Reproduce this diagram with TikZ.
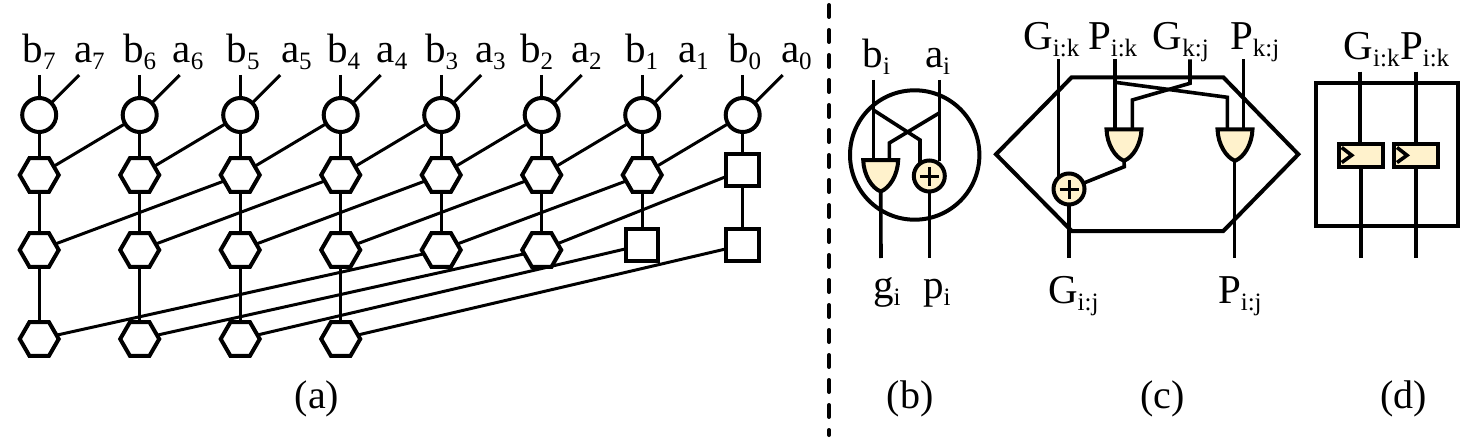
\documentclass[tikz,border=0pt]{standalone}
\usepackage{fontspec}
\setmainfont{Liberation Serif}
\usetikzlibrary{shapes.geometric}
\definecolor{gatefill}{HTML}{FFF2CC}
\newcommand{\sig}[2]{{\fontsize{41}{41}\selectfont #1\raisebox{-7pt}{\fontsize{25}{25}\selectfont #2}}}
\tikzset{
  x=1pt,y=-1pt,
  wire/.style={line width=3pt,line cap=butt},
  gwire/.style={line width=3.6pt,line join=miter},
  shapeline/.style={line width=4pt,draw=black,inner sep=0pt,outer sep=0pt,line join=miter},
  pgnode/.style={shapeline,circle,fill=white,minimum size=34pt},
  hexnode/.style={shapeline,regular polygon,regular polygon sides=6,fill=white,minimum size=39pt},
  sqnode/.style={shapeline,rectangle,fill=white,minimum size=32.5pt},
  xornode/.style={shapeline,circle,fill=gatefill,minimum size=31pt},
  txt/.style={inner sep=0pt,outer sep=0pt,anchor=base west},
  caption/.style={inner sep=0pt,outer sep=0pt,anchor=base,font=\fontsize{40}{40}\selectfont},
  ffnode/.style={shapeline,rectangle,fill=gatefill,minimum width=44pt,minimum height=22.5pt},
}
% AND gate opening at the top: name, centre x, top y
\newcommand{\andgate}[3]{
  \filldraw[shapeline,fill=gatefill]
    (#2-17.5,#3) -- (#2+17.5,#3) .. controls (#2+17,#3+15) and (#2+9,#3+28) .. (#2,#3+31.5)
    .. controls (#2-9,#3+28) and (#2-17,#3+15) .. cycle;
  \coordinate (#1-out) at (#2,#3+31.5);
}
% plus sign of an XOR node
\newcommand{\xorplus}[1]{
  \draw[line width=3pt] ([xshift=-9.5pt]#1.center) -- ([xshift=9.5pt]#1.center)
                        ([yshift=-9.5pt]#1.center) -- ([yshift=9.5pt]#1.center);
}
% clock chevron of a flip-flop
\newcommand{\ffclock}[1]{
  \draw[line width=3.6pt] ([xshift=3pt,yshift=-7.2pt]#1.west) -- ([xshift=13pt]#1.west) -- ([xshift=3pt,yshift=7.8pt]#1.west);
}
\begin{document}
\begin{tikzpicture}
\useasboundingbox (0,0) rectangle (1463,441);

% --- prefix network -----------------------------------------------------
\foreach \i/\xb/\xa in {7/22.7/74,6/123/172.7,5/226.7/281,4/327/376.7,3/425/475,2/520/571,1/625/678,0/728/781}{
  \pgfmathsetmacro{\cx}{742.7-100.5*\i}
  \node[pgnode] (p\i) at (\cx,115) {};
  \coordinate (tb\i) at (\cx,75);
  \coordinate (ta\i) at (\cx+40,75);
  \draw[wire] (tb\i) -- (p\i);
  \draw[wire] (ta\i) -- (p\i);
  \node[txt] (lb\i) at (\xb,63) {\sig{b}{\i}};
  \node[txt] (la\i) at (\xa,63) {\sig{a}{\i}};
}
\foreach \i in {1,...,7}{
  \pgfmathsetmacro{\cx}{742.7-100.5*\i}
  \node[hexnode] (r\i) at (\cx,175) {};
}
\foreach \i in {2,...,7}{
  \pgfmathsetmacro{\cx}{742.7-100.5*\i}
  \node[hexnode] (s\i) at (\cx,250) {};
}
\foreach \i in {4,...,7}{
  \pgfmathsetmacro{\cx}{742.7-100.5*\i}
  \node[hexnode] (t\i) at (\cx,339) {};
}
\node[sqnode] (r0) at (742.7,170) {};
\node[sqnode] (s0) at (742.7,245) {};
\node[sqnode] (s1) at (642.2,245) {};

% vertical links
\foreach \i in {0,...,7}{ \draw[wire] (p\i) -- (r\i); }
\foreach \i in {0,...,7}{ \draw[wire] (r\i) -- (s\i); }
\foreach \i in {4,...,7}{ \draw[wire] (s\i) -- (t\i); }
% slanted links
\foreach \a/\b in {0/1,1/2,2/3,3/4,4/5,5/6,6/7}{ \draw[wire] (p\a) -- (r\b); }
\foreach \a/\b in {0/2,1/3,2/4,3/5,4/6,5/7}{ \draw[wire] (r\a) -- (s\b); }
\foreach \a/\b in {0/4,1/5,2/6,3/7}{ \draw[wire] (s\a) -- (t\b); }

\node[caption] (capa) at (317,408) {(a)};

% --- divider ------------------------------------------------------------
\coordinate (dtop) at (829,5);
\coordinate (dbot) at (829,435);
\draw[line width=4pt,line cap=round,dash pattern=on 12pt off 13pt] (dtop) -- (dbot);

% --- carry operator ------------------------------------------------------
\node[shapeline,circle,minimum size=129.4pt] (bigc) at (914.7,155) {};
\coordinate (bi) at (873.3,80);
\coordinate (ai) at (939.3,80);
\coordinate (bx) at (873.3,110);
\coordinate (ax) at (939.3,113);
\coordinate (bk) at (920,140);
\coordinate (ak) at (889.3,143);
\coordinate (bin) at (873.3,160);
\coordinate (akn) at (889.3,160);
\coordinate (bkn) at (920,165);
\coordinate (gout) at (881,258);
\coordinate (pout) at (929.3,258);
\draw[gwire] (bi) -- (bin);
\draw[gwire] (bx) -- (bk) -- (bkn);
\draw[gwire] (ax) -- (ak) -- (akn);
\andgate{gb}{880.7}{160}
\node[xornode] (xb) at (929.3,176) {};
\xorplus{xb}
\draw[gwire] (ai) -- (xb.north -| ai);
\draw[gwire] (gb-out) -- (gout);
\draw[gwire] (xb) -- (pout);
\node[txt] (lbi) at (862.7,68) {\sig{b}{i}};
\node[txt] (lai) at (925,68) {\sig{a}{i}};
\node[txt] (lgi) at (873,298) {\sig{g}{i}};
\node[txt] (lpi) at (923,298) {\sig{p}{i}};
\node[caption] (capb) at (910,408) {(b)};

% --- prefix operator -----------------------------------------------------
\coordinate (h1) at (996,154.3);
\coordinate (h2) at (1071.7,77.3);
\coordinate (h3) at (1223.3,77.3);
\coordinate (h4) at (1298.3,154.3);
\coordinate (h5) at (1223.3,231);
\coordinate (h6) at (1071.7,231);
\draw[shapeline] (h1) -- (h2) -- (h3) -- (h4) -- (h5) -- (h6) -- cycle;
\coordinate (gik) at (1058.3,59.3);
\coordinate (pik) at (1115,59.3);
\coordinate (gkj) at (1190,59.3);
\coordinate (pkj) at (1243.3,59.3);
\coordinate (pikb) at (1115,82.3);
\coordinate (pikc) at (1227.3,97.3);
\coordinate (pikd) at (1227.3,130);
\coordinate (gkjb) at (1190,83.3);
\coordinate (gkjc) at (1132.3,100);
\coordinate (gkjd) at (1132.3,130);
\coordinate (pike) at (1115,130);
\coordinate (pkje) at (1243.3,130);
\coordinate (gij) at (1069,258);
\coordinate (pij) at (1234.3,258);
\coordinate (ander) at (1124.3,166.7);
\draw[gwire] (gik) -- (1058.3,178);
\draw[gwire] (pik) -- (pike);
\draw[gwire] (pikb) -- (pikc) -- (pikd);
\draw[gwire] (gkj) -- (gkjb) -- (gkjc) -- (gkjd);
\draw[gwire] (pkj) -- (pkje);
\andgate{ga}{1124}{129.3}
\andgate{gc}{1235}{129.3}
\node[xornode] (xc) at (1069,189) {};
\xorplus{xc}
\draw[gwire] (ga-out) -- (ander) -- (xc);
\draw[gwire] (xc) -- (gij);
\draw[gwire] (gc-out -| pij) -- (pij);
\node[txt] (lgik) at (1023.3,50) {\sig{G}{i:k}};
\node[txt] (lpik) at (1088,50) {\sig{P}{i:k}};
\node[txt] (lgkj) at (1152.7,50) {\sig{G}{k:j}};
\node[txt] (lpkj) at (1230,50) {\sig{P}{k:j}};
\node[txt] (lgij) at (1048,303) {\sig{G}{i:j}};
\node[txt] (lpij) at (1218,303) {\sig{P}{i:j}};
\node[caption] (capc) at (1162.5,408) {(c)};

% --- buffer cell ---------------------------------------------------------
\coordinate (da) at (1315.7,82.7);
\coordinate (db) at (1458.3,225.7);
\draw[shapeline] (da) rectangle (db);
\node[ffnode] (ff1) at (1360.7,155.3) {};
\node[ffnode] (ff2) at (1416,155.3) {};
\ffclock{ff1}
\ffclock{ff2}
\coordinate (i1) at (1360,71.7);
\coordinate (i2) at (1416,71.7);
\coordinate (o1) at (1361,258);
\coordinate (o2) at (1416,258);
\draw[gwire] (i1) -- (ff1.north -| i1);
\draw[gwire] (i2) -- (ff2.north -| i2);
\draw[gwire] (ff1.south -| o1) -- (o1);
\draw[gwire] (ff2.south -| o2) -- (o2);
\node[txt] (lgd) at (1343.5,60) {\sig{G}{i:k}};
\node[txt] (lpd) at (1400,60) {\sig{P}{i:k}};
\node[caption] (capd) at (1403.5,408) {(d)};
\end{tikzpicture}
\end{document}
